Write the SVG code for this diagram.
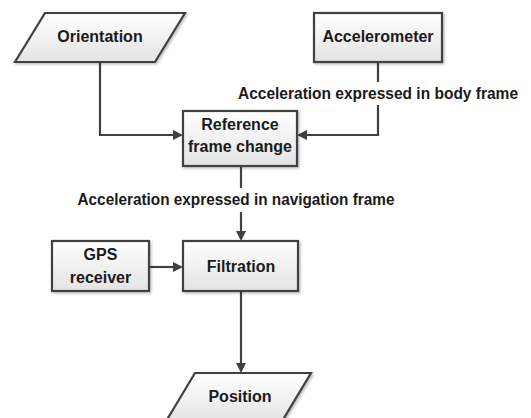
<svg xmlns="http://www.w3.org/2000/svg" width="531" height="418" viewBox="0 0 531 418">
  <style>
    .node { fill: url(#grad); stroke: #404040; stroke-width: 2.2; filter: url(#shadow); }
    .lbl { font-family: "Liberation Sans", Arial, sans-serif; font-weight: bold; font-size: 16px; fill: #1a1a1a; text-anchor: middle; }
    .conn { fill: none; stroke: #404040; stroke-width: 2.2; }
  </style>
  <defs>
    <linearGradient id="grad" x1="0" y1="0" x2="0" y2="1">
      <stop offset="0" stop-color="#ffffff"/>
      <stop offset="1" stop-color="#e3e3e3"/>
    </linearGradient>
    <filter id="shadow" x="-10%" y="-10%" width="125%" height="130%">
      <feDropShadow dx="1.5" dy="1.5" stdDeviation="1" flood-color="#000000" flood-opacity="0.25"/>
    </filter>
    <marker id="arrow" markerUnits="userSpaceOnUse" markerWidth="11" markerHeight="11" refX="6" refY="5" orient="auto">
      <path d="M0,0 L10,5 L0,10 z" fill="#404040"/>
    </marker>
  </defs>
  <rect width="531" height="418" fill="#ffffff"/>

  <g id="connectors">
    <path class="conn" d="M100,62 V135 H179" marker-end="url(#arrow)"/>
    <path class="conn" d="M378,62 V82"/>
    <path class="conn" d="M378,105 V135 H301" marker-end="url(#arrow)"/>
    <path class="conn" d="M241,166 V188"/>
    <path class="conn" d="M241,212 V237" marker-end="url(#arrow)"/>
    <path class="conn" d="M149,267 H179" marker-end="url(#arrow)"/>
    <path class="conn" d="M241,291 V369" marker-end="url(#arrow)"/>
    <text class="lbl" x="378" y="99" textLength="280" lengthAdjust="spacingAndGlyphs">Acceleration expressed in body frame</text>
    <text class="lbl" x="236" y="205" textLength="317" lengthAdjust="spacingAndGlyphs">Acceleration expressed in navigation frame</text>
  </g>

  <g id="orientation">
    <polygon class="node" points="45,13 185,13 155,62 15,62"/>
    <text class="lbl" x="100" y="42">Orientation</text>
  </g>
  <g id="accelerometer">
    <rect class="node" x="314" y="13" width="128" height="49"/>
    <text class="lbl" x="378" y="42">Accelerometer</text>
  </g>
  <g id="reference">
    <rect class="node" x="183" y="111" width="114" height="55"/>
    <text class="lbl" x="240" y="130">Reference</text>
    <text class="lbl" x="240" y="152">frame change</text>
  </g>
  <g id="gps">
    <rect class="node" x="52" y="241" width="97" height="50"/>
    <text class="lbl" x="100.5" y="260">GPS</text>
    <text class="lbl" x="100.5" y="283">receiver</text>
  </g>
  <g id="filtration">
    <rect class="node" x="183" y="241" width="115" height="50"/>
    <text class="lbl" x="241" y="272">Filtration</text>
  </g>
  <g id="position">
    <polygon class="node" points="195,373 311,373 281,423 165,423"/>
    <text class="lbl" x="240" y="402">Position</text>
  </g>
</svg>
